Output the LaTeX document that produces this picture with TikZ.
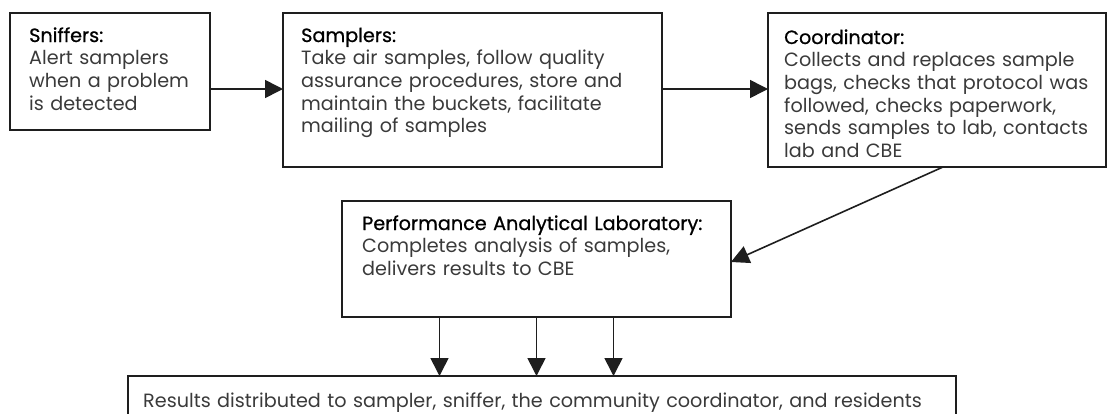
\documentclass[tikz,border=0pt]{standalone}
\usepackage{fontspec}
\setmainfont{Poppins}
\newfontfamily\headfont{Poppins}[FakeBold=0.8]
\usetikzlibrary{arrows.meta,calc}
\definecolor{ink}{HTML}{1E1E1E}
\definecolor{txtc}{HTML}{3A3A3A}
\tikzset{
  boxnode/.style={draw=ink, line width=1.8pt, rectangle, inner sep=0pt, outer sep=0pt, anchor=north west},
  txtnode/.style={anchor=base west, inner sep=0pt, align=left, text width=440pt, text=txtc,
    font=\fontsize{19.2}{22.7}\selectfont},
  arr/.style={draw=ink, line width=1.6pt, -{Triangle[length=18pt,width=18pt]}},
}
\newcommand{\hd}[1]{{\headfont\color{black}#1}}
\begin{document}
\begin{tikzpicture}[x=1pt,y=-1pt]
\useasboundingbox (0,0) rectangle (1109,413);
\clip (0,0) rectangle (1109,413);
% boxes
\node[boxnode, minimum width=200pt, minimum height=117pt] (sniff) at (10,13) {};
\node[boxnode, minimum width=379pt, minimum height=154pt] (samp) at (283,13) {};
\node[boxnode, minimum width=338pt, minimum height=154pt] (coord) at (768,13) {};
\node[boxnode, minimum width=389pt, minimum height=116pt] (lab) at (342,201) {};
\node[boxnode, minimum width=828pt, minimum height=80pt] (res) at (128,376) {};
% texts
\node[txtnode] (sniffT) at ([shift={(19pt,-29pt)}]sniff.north west)
  {\hd{Sniffers:}\\Alert samplers\\when a problem\\is detected};
\node[txtnode] (sampT) at ([shift={(18pt,-29pt)}]samp.north west)
  {\hd{Samplers:}\\Take air samples, follow quality\\assurance procedures, store and\\maintain the buckets, facilitate\\mailing of samples};
\node[txtnode] (coordT) at ([shift={(16pt,-31pt)}]coord.north west)
  {\hd{Coordinator:}\\Collects and replaces sample\\bags, checks that protocol was\\followed, checks paperwork,\\sends samples to lab, contacts\\lab and CBE};
\node[txtnode] (labT) at ([shift={(20pt,-29pt)}]lab.north west)
  {\hd{Performance Analytical Laboratory:}\\Completes analysis of samples,\\delivers results to CBE};
\node[txtnode, text width=820pt] (resT) at ([shift={(15pt,-31pt)}]res.north west)
  {Results distributed to sampler, sniffer, the community coordinator, and residents};
% connectors
\coordinate (rowy) at (0,89);
\draw[arr] (sniff.east |- rowy) -- (samp.west |- rowy);
\draw[arr] (samp.east |- rowy) -- (coord.west |- rowy);
\draw[arr] ([xshift=6pt]coord.south) -- ([yshift=-3pt]lab.east);
\draw[arr] ([xshift=-97pt]lab.south) -- ([xshift=-97pt]lab.south |- res.north);
\draw[arr] (lab.south) -- (lab.south |- res.north);
\draw[arr] ([xshift=77pt]lab.south) -- ([xshift=77pt]lab.south |- res.north);
\end{tikzpicture}
\end{document}
